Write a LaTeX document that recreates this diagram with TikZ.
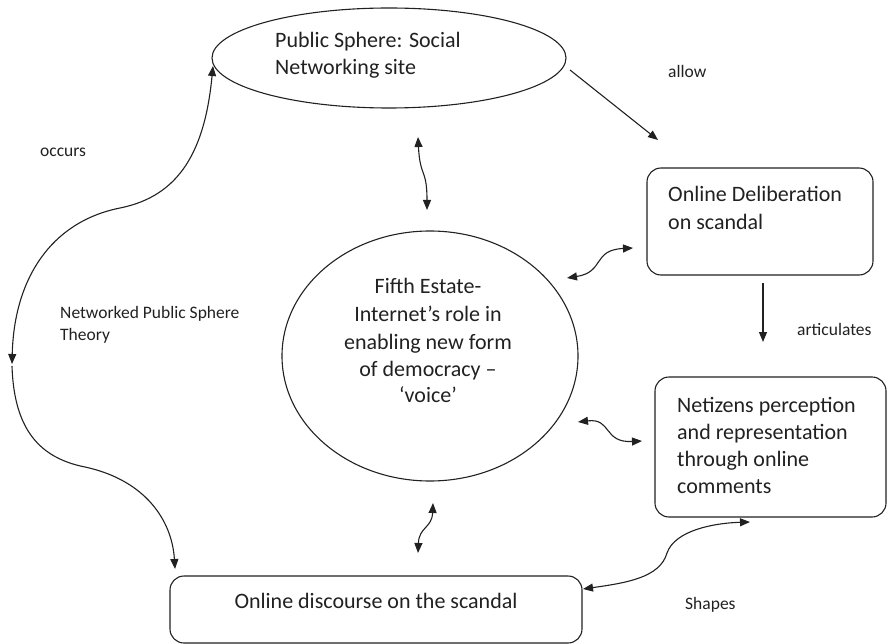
\documentclass[tikz,border=0pt]{standalone}
\usepackage{fontspec}
\setmainfont{Carlito}
\usetikzlibrary{arrows.meta,shapes.geometric}
\definecolor{ink}{rgb}{0.13,0.13,0.13}
\begin{document}
\begin{tikzpicture}[x=1pt,y=-1pt,
  shapebox/.style={draw=ink, line width=1.1pt},
  ov/.style={shapebox, ellipse, inner sep=0pt},
  rbox/.style={shapebox, rectangle, rounded corners=14pt, inner sep=0pt},
  big/.style={font=\fontsize{22}{27}\selectfont, inner sep=0pt, anchor=base west, text=ink},
  bigc/.style={big, anchor=base},
  lbl/.style={font=\fontsize{17.5}{21}\selectfont, inner sep=0pt, anchor=base west, text=ink},
  tip/.tip={Triangle[length=10pt,width=8pt]},
  conn/.style={draw=ink, line width=1.1pt, -tip},
  dconn/.style={draw=ink, line width=1.1pt, tip-tip}
]
\useasboundingbox (0,0) rectangle (888,644);

% shapes
\node[ov, minimum width=354pt, minimum height=100pt] (pub) at (389,58) {};
\node[big] (pubA) at (275,48) {Public Sphere: Social};
\node[big] (pubB) at (275,75) {Networking site};

\node[rbox, minimum width=226pt, minimum height=107pt] (delib) at (760,221.5) {};
\node[big] (delA) at (668,202) {Online Deliberation};
\node[big] (delB) at (668,230) {on scandal};

\node[ov, minimum width=296pt, minimum height=250pt] (fifth) at (430,356) {};
\node[bigc] (f1) at (428,293) {Fifth Estate-};
\node[bigc] (f2) at (428,321) {Internet’s role in};
\node[bigc] (f3) at (428,349) {enabling new form};
\node[bigc] (f4) at (428,376) {of democracy –};
\node[bigc] (f5) at (428,402) {‘voice’};

\node[rbox, minimum width=231pt, minimum height=140pt] (net) at (770.5,447) {};
\node[big] (n1) at (677,412) {Netizens perception};
\node[big] (n2) at (677,439) {and representation};
\node[big] (n3) at (677,466) {through online};
\node[big] (n4) at (677,493) {comments};

\node[rbox, minimum width=412pt, minimum height=67pt] (disc) at (376,609.5) {};
\node[bigc] (discT) at (376,608) {Online discourse on the scandal};

% labels
\node[lbl] (lAllow) at (668,78) {allow};
\node[lbl] (lOccurs) at (40,157) {occurs};
\node[lbl] (lNet1) at (60,318) {Networked Public Sphere};
\node[lbl] (lNet2) at (60,340) {Theory};
\node[lbl] (lArt) at (797,335) {articulates};
\node[lbl] (lShapes) at (685,609) {Shapes};

% connector end points
\coordinate (pubW) at (213,66);
\coordinate (leftMid) at (12,364);
\coordinate (leftMid2) at (12,366);
\coordinate (discNW) at (175,569);
\coordinate (allowS) at (570,70);
\coordinate (allowE) at (658,140);
\coordinate (artS) at (763,283);
\coordinate (artE) at (763,342);
\coordinate (vTop) at (418,137);
\coordinate (vBot) at (427,210);
\coordinate (dA) at (567,278);
\coordinate (dB) at (633,248);
\coordinate (nA) at (578,422);
\coordinate (nB) at (642,441);
\coordinate (bTop) at (433,503);
\coordinate (bBot) at (418,553);
\coordinate (sA) at (750,522);
\coordinate (sB) at (583,589);

% connectors
\draw[dconn] (leftMid) .. controls (14,280) and (50,222) .. (120,208)
  .. controls (180,196) and (205,150) .. (pubW);
\draw[conn] (leftMid2) .. controls (14,430) and (40,458) .. (85,467)
  .. controls (145,480) and (172,520) .. (discNW);
\draw[conn] (allowS) -- (allowE);
\draw[conn] (artS) -- (artE);
\draw[dconn] (vTop) .. controls (420,178) and (427,168) .. (vBot);
\draw[dconn] (dA) .. controls (605,272) and (592,250) .. (dB);
\draw[dconn] (nA) .. controls (612,418) and (603,443) .. (nB);
\draw[dconn] (bTop) .. controls (432,528) and (419,527) .. (bBot);
\draw[dconn] (sB) .. controls (625,583) and (660,578) .. (667,553)
  .. controls (675,530) and (715,523) .. (sA);
\end{tikzpicture}
\end{document}
